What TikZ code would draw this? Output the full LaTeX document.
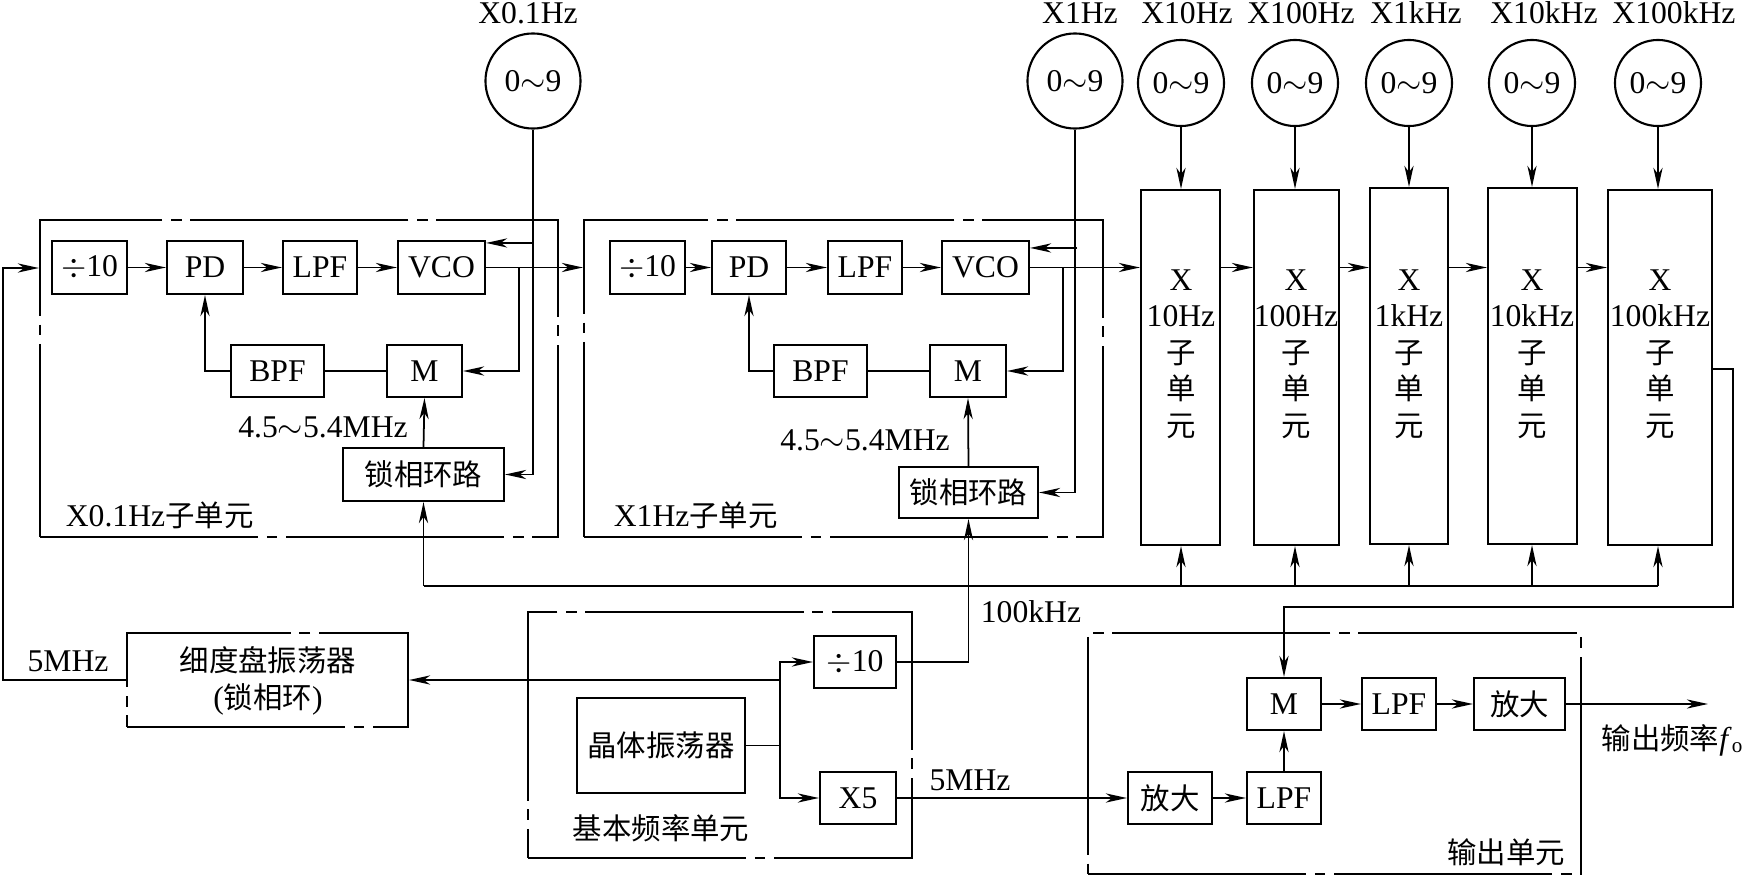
\documentclass[tikz,border=0pt]{standalone}
\usepackage{fontspec}
\setmainfont{Liberation Serif}
\newfontfamily\cjk{Noto Sans CJK SC}[Scale=0.93]
\usetikzlibrary{arrows.meta,calc}
\newcommand\zh[1]{{\cjk #1}}
% \blk[style]{name}{x1}{y1}{x2}{y2}{text}
\newcommand\blk[7][blk]{\node[#1, minimum width={(#5-#3)*0.01cm}, minimum height={(#6-#4)*0.01cm}] (#2) at ({(#3+#5)/2},{(#4+#6)/2}) {#7};}
\tikzset{
  every node/.style={font=\fontsize{9pt}{10.4pt}\selectfont},
  blk/.style={draw, line width=0.6pt, inner sep=0pt},
  frame/.style={draw, line width=0.6pt, inner sep=0pt, dash pattern=on 62pt off 2.5pt on 3pt off 2.5pt},
  dial/.style={draw, circle, line width=0.6pt, inner sep=0pt},
  txt/.style={inner sep=0pt},
  arr/.style={-{Stealth[length=6pt,width=2.6pt,inset=1.8pt]}}
}
\begin{document}
\begin{tikzpicture}[x=0.01cm, y=-0.01cm, line width=0.5pt]
\useasboundingbox (0,0) rectangle (1747,876);

% ---------- dials ----------
\node[dial, minimum size=0.95cm] (D01) at (533,81) {0$\sim$9};
\node[dial, minimum size=0.95cm] (D1) at (1075,81) {0$\sim$9};
\node[dial, minimum size=0.86cm] (D10) at (1181,83) {0$\sim$9};
\node[dial, minimum size=0.86cm] (D100) at (1295,83) {0$\sim$9};
\node[dial, minimum size=0.86cm] (D1k) at (1409,83) {0$\sim$9};
\node[dial, minimum size=0.86cm] (D10k) at (1532,83) {0$\sim$9};
\node[dial, minimum size=0.86cm] (D100k) at (1658,83) {0$\sim$9};
\node[txt] (lD01) at (528,13) {X0.1Hz};
\node[txt] (lD1) at (1080,13) {X1Hz};
\node[txt] (lD10) at (1187,13) {X10Hz};
\node[txt] (lD100) at (1301,13) {X100Hz};
\node[txt] (lD1k) at (1416,13) {X1kHz};
\node[txt] (lD10k) at (1544,13) {X10kHz};
\node[txt] (lD100k) at (1674,13) {X100kHz};

% ---------- X0.1Hz unit ----------
\blk[frame]{F1}{40}{220}{558}{537}{}
\blk{d1}{52}{241}{127}{294}{$\div$10}
\blk{PD1}{167}{241}{243}{294}{PD}
\blk{LPF1}{283}{241}{357}{294}{LPF}
\blk{VCO1}{398}{241}{485}{294}{VCO}
\blk{BPF1}{231}{345}{324}{397}{BPF}
\blk{M1}{387}{345}{462}{397}{M}
\blk{P1}{343}{448}{504}{501}{\zh{锁相环路}}
\node[txt] (L1) at (323,427) {4.5$\sim$5.4MHz};
\node[txt, anchor=west] (T1) at (65,515) {X0.1Hz\zh{子单元}};

% ---------- X1Hz unit ----------
\blk[frame]{F2}{584}{220}{1103}{537}{}
\blk{d2}{610}{241}{685}{294}{$\div$10}
\blk{PD2}{712}{241}{786}{294}{PD}
\blk{LPF2}{828}{241}{902}{294}{LPF}
\blk{VCO2}{942}{241}{1029}{294}{VCO}
\blk{BPF2}{774}{345}{867}{397}{BPF}
\blk{M2}{930}{345}{1006}{397}{M}
\blk{P2}{899}{467}{1038}{518}{\zh{锁相环路}}
\node[txt] (L2) at (865,440) {4.5$\sim$5.4MHz};
\node[txt, anchor=west] (T2) at (613,515) {X1Hz\zh{子单元}};

% ---------- sub-units ----------
\blk{S10}{1141}{190}{1220}{545}{}
\blk{S100}{1254}{190}{1339}{545}{}
\blk{S1k}{1370}{188}{1448}{544}{}
\blk{S10k}{1488}{188}{1577}{544}{}
\blk{S100k}{1608}{190}{1712}{545}{}
\node[txt, align=center] (S10t) at (1181,354) {X\\10Hz\\\zh{子}\\\zh{单}\\\zh{元}};
\node[txt, align=center] (S100t) at (1296,354) {X\\100Hz\\\zh{子}\\\zh{单}\\\zh{元}};
\node[txt, align=center] (S1kt) at (1409,354) {X\\1kHz\\\zh{子}\\\zh{单}\\\zh{元}};
\node[txt, align=center] (S10kt) at (1532,354) {X\\10kHz\\\zh{子}\\\zh{单}\\\zh{元}};
\node[txt, align=center] (S100kt) at (1660,354) {X\\100kHz\\\zh{子}\\\zh{单}\\\zh{元}};

% ---------- fine dial oscillator ----------
\blk[frame]{FD}{127}{633}{408}{727}{}
\node[txt, align=center] (FDt) at (268,681) {\zh{细度盘振荡器}\\(\zh{锁相环})};
\node[txt] (L5a) at (68,661) {5MHz};

% ---------- basic frequency unit ----------
\blk[frame]{F3}{528}{612}{912}{858}{}
\blk{XO}{577}{698}{745}{793}{\zh{晶体振荡器}}
\blk{d3}{814}{636}{896}{688}{$\div$10}
\blk{X5}{820}{772}{896}{824}{X5}
\node[txt] (T3) at (661,828) {\zh{基本频率单元}};
\node[txt, anchor=west] (L100k) at (980,612) {100kHz};
\node[txt] (L5b) at (970,780) {5MHz};

% ---------- output unit ----------
\blk[frame]{F4}{1088}{633}{1581}{874}{}
\blk{M3}{1247}{678}{1321}{730}{M}
\blk{LPF3}{1362}{678}{1436}{730}{LPF}
\blk{AMP1}{1474}{678}{1565}{730}{\zh{放大}}
\blk{AMP2}{1128}{772}{1212}{824}{\zh{放大}}
\blk{LPF4}{1247}{772}{1321}{824}{LPF}
\node[txt] (T4) at (1506,852) {\zh{输出单元}};
\node[txt, anchor=east] (Lout) at (1745,740) {\zh{输出频率}\textit{f}\textsubscript{o}};

% ---------- helper coordinates ----------
\coordinate (lft) at (3,268);
\coordinate (b1) at (519,268);
\coordinate (b2) at (1063,268);
\coordinate (ybus) at (0,586);
\coordinate (v1in) at ($(VCO1.north east)+(0,3)$);
\coordinate (v2in) at ($(VCO2.north east)+(0,8)$);
\coordinate (r1) at (1733,369);
\coordinate (r2) at (1733,607);
\coordinate (spx) at (780,0);
\coordinate (outp) at (1708,704);

% ---------- connectors: X0.1Hz ----------
\draw[arr] (FD.west) -| (lft) -- (F1.west |- lft);
\draw[arr] (d1) -- (PD1);
\draw[arr] (PD1) -- (LPF1);
\draw[arr] (LPF1) -- (VCO1);
\draw[arr] (VCO1.east) -- (F2.west |- VCO1.east);
\draw[arr] (b1) |- (M1.east);
\draw (M1.west) -- (BPF1.east);
\draw[arr] (BPF1.west) -| (PD1.south);
\draw[arr] (P1.north) -- (M1.south);
\draw[arr] (D01.south) |- (P1.east);
\draw[arr] (D01.south |- v1in) -- (v1in);

% ---------- connectors: X1Hz ----------
\draw[arr] (d2) -- (PD2);
\draw[arr] (PD2) -- (LPF2);
\draw[arr] (LPF2) -- (VCO2);
\draw[arr] (VCO2.east) -- (S10.west |- VCO2.east);
\draw[arr] (b2) |- (M2.east);
\draw (M2.west) -- (BPF2.east);
\draw[arr] (BPF2.west) -| (PD2.south);
\draw[arr] (P2.north) -- (M2.south);
\draw[arr] (D1.south) |- (P2.east);
\draw[arr] ($(D1.south |- v2in)+(2,0)$) -- (v2in);

% ---------- sub-unit chain ----------
\draw[arr] (S10.east |- VCO2.east) -- (S100.west |- VCO2.east);
\draw[arr] (S100.east |- VCO2.east) -- (S1k.west |- VCO2.east);
\draw[arr] (S1k.east |- VCO2.east) -- (S10k.west |- VCO2.east);
\draw[arr] (S10k.east |- VCO2.east) -- (S100k.west |- VCO2.east);
\foreach \d/\s in {D10/S10,D100/S100,D1k/S1k,D10k/S10k,D100k/S100k}{
  \draw[arr] (\d.south) -- (\d.south |- \s.north);
  \draw[arr] (\d.south |- ybus) -- (\d.south |- \s.south);
}
% bus
\draw (P1.south |- ybus) -- (D100k.south |- ybus);
\draw[arr] (P1.south |- ybus) -- (P1.south);
\draw[arr] (d3.east) -| (P2.south);
% X100kHz output to output mixer
\draw[arr] (S100k.east |- r1) -- (r1) -- (r2) -- (M3.north |- r2) -- (M3.north);

% ---------- basic unit ----------
\draw (XO.east) -- (XO.east -| spx);
\draw[arr] (XO.east -| spx) |- (d3.west);
\draw[arr] (XO.east -| spx) |- (X5.west);
\draw[arr] (spx |- FD.east) -- (FD.east);
\draw[arr] (X5.east) -- (AMP2.west);

% ---------- output unit ----------
\draw[arr] (M3) -- (LPF3);
\draw[arr] (LPF3) -- (AMP1);
\draw[arr] (AMP1.east) -- (outp);
\draw[arr] (AMP2) -- (LPF4);
\draw[arr] (LPF4) -- (M3);
\end{tikzpicture}
\end{document}
